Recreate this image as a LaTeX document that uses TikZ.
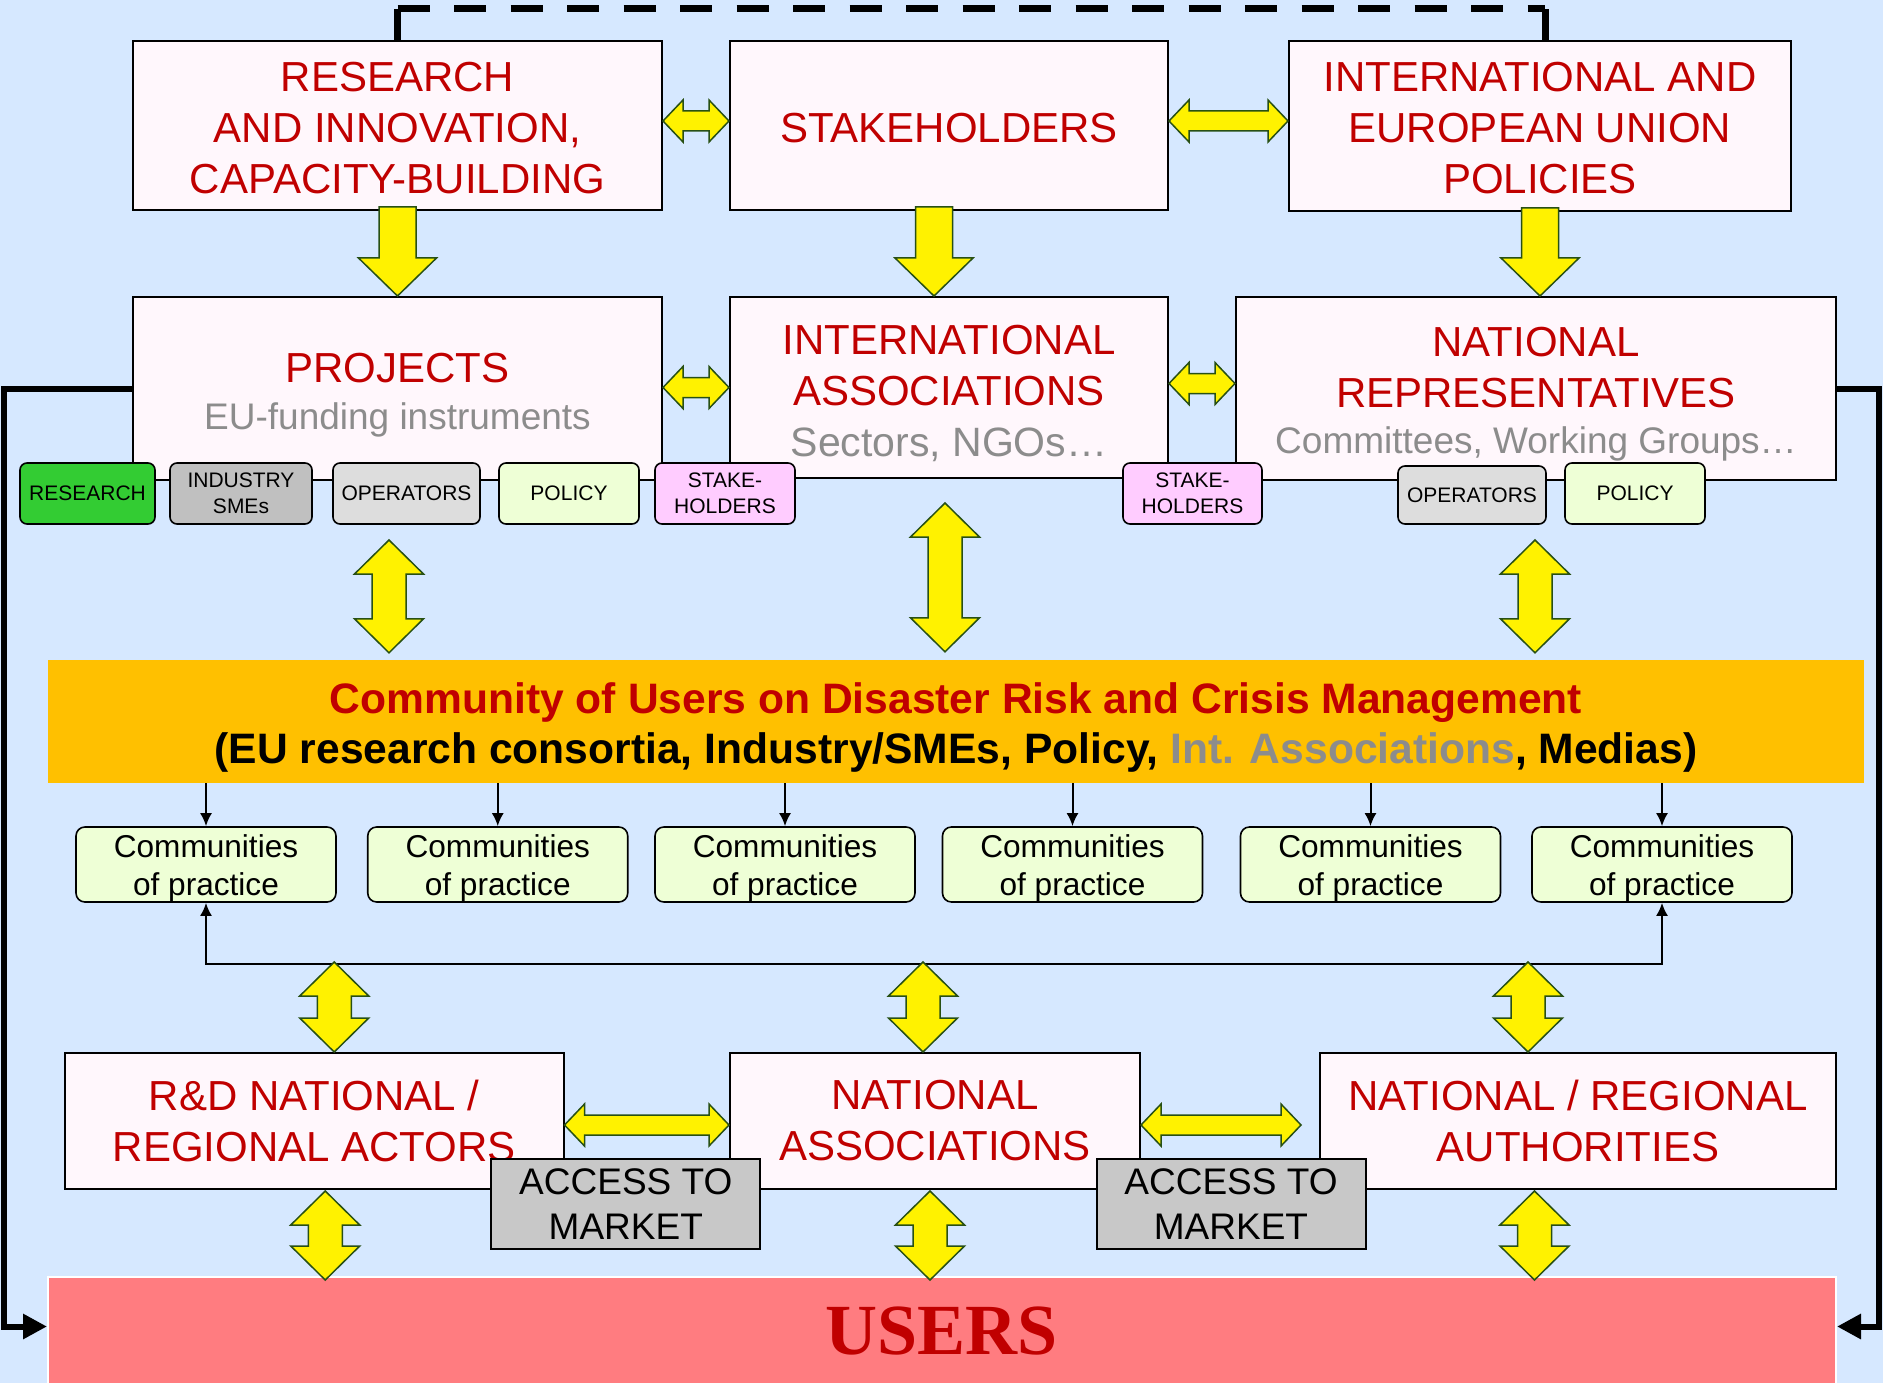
\documentclass[tikz,border=0pt]{standalone}
\usepackage{fontspec}
\setmainfont{Liberation Sans}
\newfontfamily\usersfont{Liberation Serif}
\usetikzlibrary{calc,arrows.meta}

\definecolor{bgblue}{RGB}{214,232,255}
\definecolor{boxfill}{RGB}{255,247,252}
\definecolor{txtred}{RGB}{192,0,0}
\definecolor{txtgray}{RGB}{140,140,140}
\definecolor{arrowedge}{RGB}{40,80,20}
\definecolor{bandorange}{RGB}{255,192,0}
\definecolor{usersred}{RGB}{255,124,128}
\definecolor{taggreen}{RGB}{51,204,51}
\definecolor{taggray}{RGB}{192,192,192}
\definecolor{taglight}{RGB}{221,221,221}
\definecolor{tagpolicy}{RGB}{238,255,214}
\definecolor{tagpink}{RGB}{255,204,255}
\definecolor{accgray}{RGB}{200,200,200}

\newcommand{\topgap}[1]{\rule{0pt}{#1}}
\newcommand{\fathh}[2]{\draw[fatarrow] let \p1=#1, \p2=#2 in
  (\x1,\y1) -- (\x1+20pt,\y1+21pt) -- (\x1+20pt,\y1+10pt) -- (\x2-20pt,\y1+10pt) -- (\x2-20pt,\y1+21pt) -- (\x2,\y1)
  -- (\x2-20pt,\y1-21pt) -- (\x2-20pt,\y1-10pt) -- (\x1+20pt,\y1-10pt) -- (\x1+20pt,\y1-21pt) -- cycle;}
\newcommand{\fatvv}[2]{\draw[fatarrow] let \p1=#1, \p2=#2 in
  (\x1,\y1) -- (\x1+34.5pt,\y1-34pt) -- (\x1+17pt,\y1-34pt) -- (\x1+17pt,\y2+34pt) -- (\x1+34.5pt,\y2+34pt) -- (\x1,\y2)
  -- (\x1-34.5pt,\y2+34pt) -- (\x1-17pt,\y2+34pt) -- (\x1-17pt,\y1-34pt) -- (\x1-34.5pt,\y1-34pt) -- cycle;}
\newcommand{\fatdown}[2]{\draw[fatarrow] let \p1=#1, \p2=#2 in
  (\x1-18.5pt,\y1) -- (\x1+18.5pt,\y1) -- (\x1+18.5pt,\y2+38pt) -- (\x1+39pt,\y2+38pt) -- (\x1,\y2)
  -- (\x1-39pt,\y2+38pt) -- (\x1-18.5pt,\y2+38pt) -- cycle;}

\begin{document}
\begin{tikzpicture}[x=1pt, y=-1pt,
  box/.style={draw, line width=2pt, fill=boxfill, text=txtred, align=center, inner sep=0pt, font=\fontsize{42}{51}\selectfont},
  tag/.style={draw, line width=1.6pt, rounded corners=7pt, align=center, inner sep=0pt, minimum height=61pt, font=\fontsize{21}{25.8}\selectfont},
  cop/.style={draw, line width=1.6pt, rounded corners=9pt, fill=tagpolicy, align=center, inner sep=0pt, minimum width=260pt, minimum height=75pt, font=\fontsize{31.6}{37.5}\selectfont},
  acc/.style={draw, line width=2pt, fill=accgray, align=center, inner sep=0pt, minimum width=269pt, minimum height=90pt, font=\fontsize{37}{45}\selectfont},
  fatarrow/.style={fill=yellow, draw=arrowedge, line width=1.5pt},
  coparrow/.style={line width=2pt, -{Latex[length=13pt,width=12pt]}},
  bigline/.style={line width=6pt, -{Triangle[length=24pt,width=24pt]}}]
\useasboundingbox (0,0) rectangle (1883,1383);
\fill[bgblue] (0,0) rectangle (1883,1383);

\node[box, minimum width=529pt, minimum height=169pt] (rsch) at (397.5,125.5) {\topgap{34pt}RESEARCH\\AND INNOVATION,\\CAPACITY-BUILDING};
\node[box, minimum width=438pt, minimum height=169pt] (stake) at (949,125.5) {\topgap{34pt}STAKEHOLDERS};
\node[box, minimum width=502pt, minimum height=170pt] (intl) at (1540,126) {\topgap{34pt}INTERNATIONAL AND\\EUROPEAN UNION\\POLICIES};
\draw[line width=7pt] (rsch.north) -- ++(0,-31) coordinate (dl);
\draw[line width=7pt] ($(intl.north)+(5,0)$) -- ++(0,-31) coordinate (dr);
\draw[line width=7pt, dash pattern=on 32pt off 24.5pt] (dl) -- (dr);

\node[box, minimum width=529pt, minimum height=183pt] (proj) at (397.5,388.5) {\topgap{43pt}PROJECTS\\[-4pt]{\color{txtgray}\fontsize{37}{46}\selectfont EU-funding instruments}};
\node[box, minimum width=438pt, minimum height=181pt] (intassoc) at (949,387.5) {\topgap{41pt}INTERNATIONAL\\ASSOCIATIONS\\{\color{txtgray}\fontsize{41}{51}\selectfont Sectors, NGOs…}};
\node[box, minimum width=600pt, minimum height=183pt] (natrep) at (1536,388.5) {\topgap{41pt}NATIONAL\\REPRESENTATIVES\\[-5pt]{\color{txtgray}\fontsize{37}{46}\selectfont Committees, Working Groups…}};

\fathh{($(rsch.east)+(0,-4.5)$)}{(stake.west)}
\fathh{($(stake.east)+(0,-4.5)$)}{(intl.west)}
\fatdown{($(rsch.south)+(0,-4)$)}{(proj.north)}
\fatdown{($(stake.south)+(-15,-4)$)}{(intassoc.north)}
\fatdown{($(intl.south)+(0,-4)$)}{(natrep.north)}
\fathh{($(proj.east)+(0,-1)$)}{(intassoc.west)}
\fathh{($(intassoc.east)+(0,-4)$)}{(natrep.west)}

\node[tag, fill=taggreen, minimum width=135pt] (tres) at (87.5,493.5) {RESEARCH};
\node[tag, fill=taggray, minimum width=142pt] (tind) at (241,493.5) {INDUSTRY\\SMEs};
\node[tag, fill=taglight, minimum width=147pt] (topr) at (406.5,493.5) {OPERATORS};
\node[tag, fill=tagpolicy, minimum width=140pt] (tpol) at (569,493.5) {POLICY};
\node[tag, fill=tagpink, minimum width=140pt] (tstk) at (725,493.5) {STAKE-\\HOLDERS};
\node[tag, fill=tagpink, minimum width=139pt] (tstkb) at (1192.5,493.5) {STAKE-\\HOLDERS};
\node[tag, fill=taglight, minimum width=148pt, minimum height=58pt] (toprb) at (1472,495) {OPERATORS};
\node[tag, fill=tagpolicy, minimum width=140pt] (tpolb) at (1635,493.5) {POLICY};

\node[fill=bandorange, minimum width=1816pt, minimum height=123pt, inner sep=0pt, align=center, font=\bfseries\fontsize{42.6}{50}\selectfont] (band) at (956,721.5) {\topgap{42pt}{\color{txtred}Community of Users on Disaster Risk and Crisis Management}\\(EU research consortia, Industry/SMEs, Policy, {\color{txtgray}Int. Associations}, Medias)};

\fatvv{($(proj.south)+(-8.5,59)$)}{($(band.north)+(0,-7)$)}
\fatvv{($(intassoc.south)+(-4,24)$)}{($(band.north)+(0,-8)$)}
\fatvv{($(natrep.south)+(-1,59)$)}{($(band.north)+(0,-7)$)}

\node[cop] (c1) at (206,864.5) {\topgap{31pt}Communities\\of practice};
\node[cop] (c2) at (497.75,864.5) {\topgap{31pt}Communities\\of practice};
\node[cop] (c3) at (785,864.5) {\topgap{31pt}Communities\\of practice};
\node[cop] (c4) at (1072.5,864.5) {\topgap{31pt}Communities\\of practice};
\node[cop] (c5) at (1370.5,864.5) {\topgap{31pt}Communities\\of practice};
\node[cop] (c6) at (1662,864.5) {\topgap{31pt}Communities\\of practice};
\draw[coparrow] (band.south -| c1.north) -- (c1.north);
\draw[coparrow] (band.south -| c2.north) -- (c2.north);
\draw[coparrow] (band.south -| c3.north) -- (c3.north);
\draw[coparrow] (band.south -| c4.north) -- (c4.north);
\draw[coparrow] (band.south -| c5.north) -- (c5.north);
\draw[coparrow] (band.south -| c6.north) -- (c6.north);
\draw[line width=2pt, {Latex[length=13pt,width=12pt]}-{Latex[length=13pt,width=12pt]}] (c1.south) -- ++(0,61) -| (c6.south);

\node[box, minimum width=498.5pt, minimum height=136pt] (rdnat) at (314.25,1121) {R\&D NATIONAL /\\REGIONAL ACTORS};
\node[box, minimum width=410pt, minimum height=136pt] (natassoc) at (935,1121) {NATIONAL\\ASSOCIATIONS};
\node[box, minimum width=516pt, minimum height=136pt] (natreg) at (1578,1121) {NATIONAL / REGIONAL\\AUTHORITIES};
\node[fill=usersred, draw=white, line width=2pt, minimum width=1788pt, minimum height=109pt, inner sep=0pt, text=txtred, font=\usersfont\bfseries\fontsize{72}{80}\selectfont] (users) at (942,1331.5) {USERS};

\draw[bigline] (proj.west) -- ++(-128,0) |- ($(users.west)+(0,-5)$);
\draw[bigline] (natrep.east) -- ++(42,0) |- ($(users.east)+(0,-5)$);

\fatvv{($(rdnat.north)+(20,-90)$)}{(rdnat.north)}
\fatvv{($(natassoc.north)+(-12,-90)$)}{(natassoc.north)}
\fatvv{($(natreg.north)+(-50,-90)$)}{(natreg.north)}
\fathh{($(rdnat.east)+(0,4)$)}{(natassoc.west)}
\fathh{($(natassoc.east)+(0,4)$)}{($(natreg.west)+(-18,0)$)}
\fatvv{($(rdnat.south)+(11,1)$)}{($(users.north)+(0,4)$)}
\fatvv{($(natassoc.south)+(-5,1)$)}{($(users.north)+(0,4)$)}
\fatvv{($(natreg.south)+(-43.5,1)$)}{($(users.north)+(0,4)$)}

\node[acc] (acc1) at (625.8,1204) {ACCESS TO\\MARKET};
\node[acc] (acc2) at (1231,1204) {ACCESS TO\\MARKET};
\end{tikzpicture}
\end{document}
